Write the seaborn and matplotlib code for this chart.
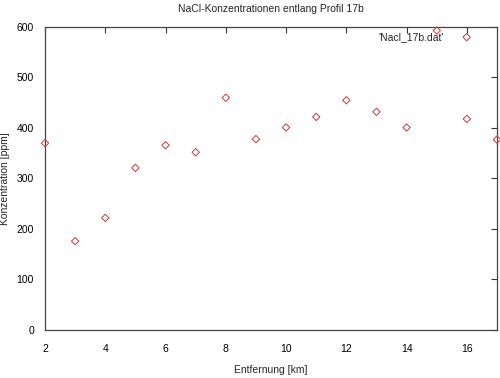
import matplotlib
matplotlib.use("Agg")
import matplotlib.pyplot as plt
import seaborn as sns
import pandas as pd

entfernung = [2, 3, 4, 5, 6, 7, 8, 9, 10, 11, 12, 13, 14, 15, 16, 17]
konzentration = [370, 176, 222, 321, 366, 352, 460, 378, 401, 422, 455, 432, 401, 593, 418, 377]
series_label = "'Nacl_17b.dat'"
x_ticks = [2, 4, 6, 8, 10, 12, 14, 16]
y_ticks = [0, 100, 200, 300, 400, 500, 600]

df = pd.DataFrame({"x": entfernung, "y": konzentration})

sns.set_style("white")
plt.rcParams['font.family'] = ['Liberation Sans', 'DejaVu Sans']

fig = plt.figure(figsize=(5, 3.78), dpi=100)
ax = fig.add_axes([0.09, 0.127, 0.904, 0.8016])

sns.scatterplot(data=df, x="x", y="y", marker="D", s=14, facecolors="none",
                edgecolor="#d03838", linewidth=0.7, ax=ax, label=series_label,
                clip_on=False, zorder=3)

ax.set_xlim(2, 17)
ax.set_ylim(0, 600)
ax.set_xticks(x_ticks)
ax.set_yticks(y_ticks)
ax.tick_params(direction="in", length=4, width=0.8, top=True, right=True,
               labelsize=7.5, colors="#333333", labelcolor="black")
ax.tick_params(axis="x", pad=10)
ax.tick_params(axis="y", pad=8)
for sp in ax.spines.values():
    sp.set_linewidth(0.9)
    sp.set_color("#444444")

ax.set_xlabel("Entfernung [km]", fontsize=7.5, labelpad=8)
ax.set_ylabel("Konzentration [ppm]", fontsize=7.5, labelpad=5)
ax.set_title("NaCl-Konzentrationen entlang Profil 17b", fontsize=7.5, pad=11)

leg = ax.legend(loc="upper right", frameon=False, markerfirst=False, fontsize=7.5,
                handletextpad=1.2, borderaxespad=0.3, bbox_to_anchor=(0.972, 1.008))

fig.savefig("out.png", dpi=100)
